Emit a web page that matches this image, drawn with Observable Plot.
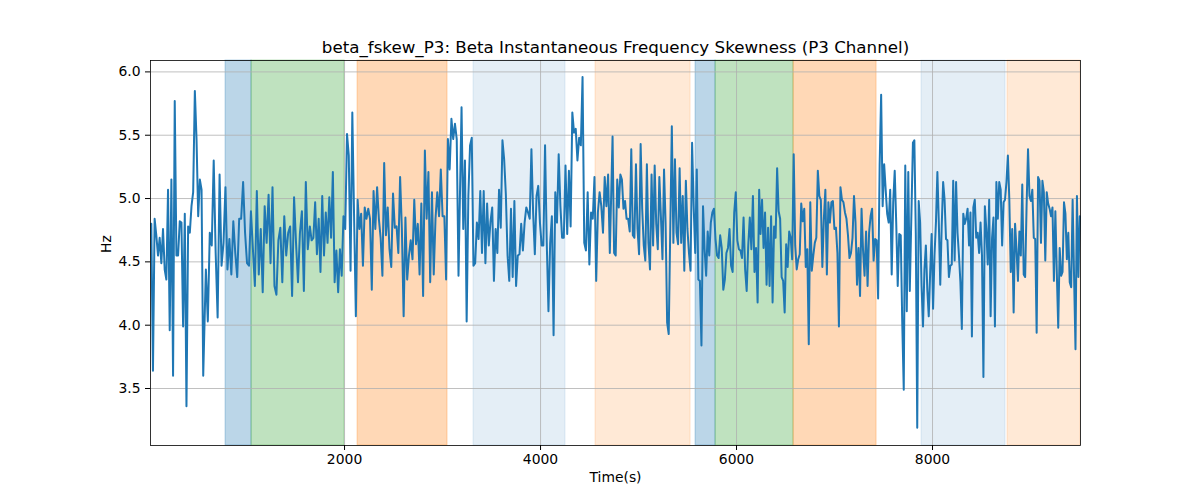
<!DOCTYPE html>
<html>
<head>
<meta charset="utf-8">
<script src="https://cdn.jsdelivr.net/npm/d3@7"></script>
<script src="https://cdn.jsdelivr.net/npm/@observablehq/plot@0.6"></script>
<style>
  body { margin: 0; background: #fff; }
  #chart { width: 1200px; height: 500px; }
</style>
</head>
<body>
<div id="chart"></div>
<script>
// chart text
const title = "beta_fskew_P3: Beta Instantaneous Frequency Skewness (P3 Channel)";
const xLabel = "Time(s)";
const yLabel = "Hz";
const xTicks = [2000, 4000, 6000, 8000];
const yTicks = [3.5, 4.0, 4.5, 5.0, 5.5, 6.0];

// shaded event windows (seconds)
const spanStarts = [786, 1051, 2133, 3316, 4561, 5582, 5786, 6582, 7888, 8765];
const spanEnds   = [1051, 2000, 3051, 4255, 5531, 5786, 6582, 7429, 8745, 9510];
const spanColors = ["#1f77b4", "#2ca02c", "#ff7f0e", "#1f77b4", "#ff7f0e",
                    "#1f77b4", "#2ca02c", "#ff7f0e", "#1f77b4", "#ff7f0e"];
const spanAlphas = [0.3, 0.3, 0.3, 0.12, 0.17, 0.3, 0.3, 0.3, 0.12, 0.17];

// signal: [first time, last time, values]
const seg1a = [4.80,3.64,4.84,4.71,4.55,4.69,4.49,4.76,4.44,4.36,5.07,3.96,5.15,3.60,5.77,4.55,
  4.55,4.82,4.81,3.99,4.88,3.36,4.78,4.73,4.94,5.05,5.85,5.47,4.86,5.15,5.07,3.60];
const seg1b = [4.44,4.03,4.73,4.63,5.30,4.57,4.06,5.19,4.47,4.65,5.09,4.44,4.68,4.40,4.82,4.57,
  4.38,4.84,4.84,5.13,4.73,4.49,4.47,4.90,4.60,4.31,5.06,4.40,4.76,4.26,4.94,4.65,5.03,4.49,
  5.09,4.31,4.24,4.67,4.77,4.34,4.86,4.55,4.73,4.78,4.23,5.01,4.65,4.34,4.73,4.90,4.27,5.13,4.60];
const seg2 = [4.78,4.67,4.69,4.97,4.56,4.84,4.42,5.02,4.55,4.89,4.65,5.01,4.69,5.21,4.34,4.59,
  4.26,4.60,4.39,4.86,4.76,5.51,5.34,4.43,5.68,4.86,4.07,4.99,4.76,4.88,4.47,4.93,4.84,4.92,
  4.84,4.28,5.06,4.76,5.09,4.84,4.69,4.39,5.28,4.71,4.93,4.60,4.46,5.04,4.77,4.78,4.57,5.17,
  4.76,4.07,4.85,4.36,4.55,4.67,4.52,4.99,4.64,4.80,4.40,4.96,4.23,5.38,4.84,5.21,4.34,5.05,
  4.40,4.84,5.05,4.86,5.23,4.86,4.86,4.36,5.47,5.23,5.63,5.47,5.59,5.47,4.39];
const seg3 = [5.72,4.76,5.30,4.03,5.02,5.42,5.48,4.47,4.49,4.81,4.68,5.06,4.57,5.06,4.49,4.96,
  4.63,4.82,4.93,4.35,4.76,4.57,5.07,4.77,5.46,5.31,5.03,4.55,4.35,4.92,4.38,4.98,4.31,4.55,
  4.56,4.80,4.59,4.81,4.93,4.89,4.84,5.39,4.89,4.56,5.02,5.10,4.81,4.63,4.63,5.42,4.65,4.11,
  4.65,4.86,3.92,5.05,4.81,5.35,4.94,4.69,4.69,5.26,4.72,5.22,4.78,5.68,5.52,5.55,5.30,5.48,
  5.42,5.96,4.65,4.59,5.05,4.48,4.89,4.84,5.17,4.35,4.89,5.05,4.94,4.73,5.17,4.94,5.19,4.57];
const seg4 = [5.49,4.57,4.55,5.15,4.93,5.19,5.15,4.92,4.98,4.84,4.84,4.74,5.39,4.71,4.69,5.27,
  4.76,4.56,5.43,4.92,4.63,4.51,5.27,4.65,4.44,5.19,4.63,5.26,4.80,4.60,5.17,4.86,4.52,5.23,
  4.81,4.02,3.93,4.76,5.57,4.65,5.31,4.73,4.64,5.24,4.65,5.02,4.43,5.14,4.76,4.57,4.43,5.44,
  4.94,4.57,5.23,4.36,4.35,3.84,4.94,4.60,4.39,4.74,4.55,4.81,4.89,4.92,4.68,4.55,4.53,4.71,
  4.61,4.28,4.36,4.57,4.61,4.76,4.47,4.42,4.89,5.05,4.67,4.60,4.59,4.53,4.85,4.44,4.27,4.63,
  4.85,4.60,5.02,4.42,4.61,4.18,5.07];
const seg5 = [4.72,4.99,4.61,4.89,4.32,4.77,4.31,4.86,4.18,4.78,4.69,5.24,4.90,4.84,4.38,4.35,
  4.10,4.64,4.46,4.74,4.69,4.52,5.35,4.63,4.44,4.52,4.56,4.96,4.82,4.92,4.46,4.60,3.85,4.97,
  4.43,4.55,4.65,4.69,5.22,5.02,4.99,4.46,4.84,5.07,4.40,4.97,4.81,4.97,4.98,4.76,4.77,4.57,
  3.99,5.09,4.99,4.97,4.89,4.84,4.71,4.53,4.57,4.69,5.02,4.81,4.32,4.61,4.23,4.92,4.59,4.39,
  4.74,4.31,4.73,4.86,4.92,4.51,4.68,4.67,4.21,5.26,5.82,4.94,5.27,5.07,4.88,4.81,5.07,4.40,
  4.97,5.22,4.81,4.31,4.72,4.71,4.02,3.49,5.26,4.11,5.21,4.27];
const seg6 = [5.44,5.46,4.72,3.19,4.98,4.81,4.31,3.99,4.44,4.63,4.28,4.07,4.42,4.72,4.13,4.55,
  4.81,5.21,4.81,4.32,4.78,5.13,4.99,4.68,4.67,4.38,4.47,4.48,5.14,4.51,5.13,4.73,4.55,4.34,
  3.97,4.88,4.80,4.84,4.92,4.63,4.89,3.91,4.93,4.99,4.69,4.73,4.57,4.81,4.55,3.59,4.94,4.76,
  4.48,4.99,4.07,4.69,4.85,3.99,5.13,4.84,5.13,5.07,4.63,4.97,4.99,5.13,5.34,4.99,4.42,4.76,
  4.10,4.80,4.60,4.35,4.74,4.55,5.11,4.40,4.38,4.94,5.39,5.02,4.98,5.07,4.69,4.68,3.94,5.17,
  5.14,4.65,5.14,5.05,4.51,5.05,4.96,4.92,4.86,4.93,4.35,4.90,4.42,3.98,4.61,4.39,4.42,4.97,
  4.88,4.52,4.73,4.34,4.30,4.99,4.39,3.81,5.02,4.38,4.86];

const segments = [
  [28, 558, seg1a], [585, 1625, seg1b], [1646, 3163, seg2], [3194, 4707, seg3],
  [4735, 6231, seg4], [6245, 7768, seg5], [7800, 9503, seg6]
];

// evenly spaced samples inside each piece
const series = segments.flatMap(([t0, t1, vals]) =>
  vals.map((v, i) => ({t: t0 + (t1 - t0) * i / (vals.length - 1), v})));

const spans = spanStarts.map((s, i) => ({
  start: s, end: spanEnds[i],
  fill: d3.color(spanColors[i]).copy({opacity: spanAlphas[i]}).formatRgb()
}));

const grid = {stroke: "#b0b0b0", strokeOpacity: 1, strokeWidth: 0.8};

const chart = Plot.plot({
  width: 1200, height: 500,
  marginLeft: 150, marginRight: 120, marginTop: 60, marginBottom: 55,
  style: {fontFamily: "'DejaVu Sans', sans-serif", fontSize: "13.9px", background: "white", color: "black"},
  x: {domain: [20, 9510]},
  y: {domain: [3.05, 6.09]},
  marks: [
    Plot.rect(spans, {x1: "start", x2: "end", fill: "fill", stroke: "fill", strokeWidth: 1}),
    Plot.gridX(xTicks, grid),
    Plot.gridY(yTicks, grid),
    Plot.line(series, {x: "t", y: "v", stroke: "#1f77b4", strokeWidth: 2}),
    Plot.frame({stroke: "black", strokeWidth: 0.8}),
    Plot.axisX(xTicks, {tickSize: 5, tickPadding: 4, tickFormat: d => String(d), label: null, fontSize: 13.9}),
    Plot.axisY(yTicks, {tickSize: 5, tickPadding: 5, tickFormat: d => d.toFixed(1), label: null, fontSize: 13.9}),
    Plot.text([title], {text: d => d, frameAnchor: "top", dy: -8, lineAnchor: "bottom", fontSize: 16.7}),
    Plot.text([xLabel], {text: d => d, frameAnchor: "bottom", dy: 36, fontSize: 13.9}),
    Plot.text([yLabel], {text: d => d, frameAnchor: "left", dx: -44, rotate: -90, fontSize: 13.9})
  ]
});

document.getElementById("chart").appendChild(chart);
</script>
</body>
</html>
